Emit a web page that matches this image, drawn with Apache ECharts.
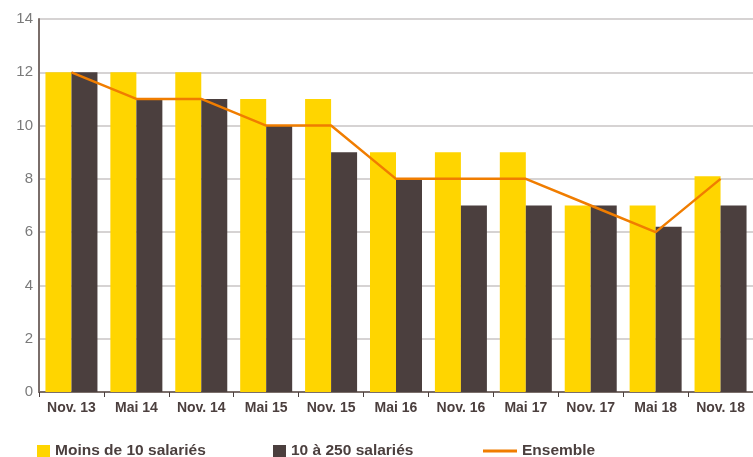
<!DOCTYPE html>
<html lang="fr">
<head>
  <meta charset="UTF-8">
  <title>Salariés</title>
  <script src="https://cdn.jsdelivr.net/npm/echarts@6/dist/echarts.min.js"></script>
  <style>
    html, body, #main {
      margin: 0;
      padding: 0;
      width: 753px;
      height: 457px;
      background: #fff;
    }
  </style>
</head>
<body>
  <div id="main"></div>

  <script>
    const periods = ["Nov. 13", "Mai 14", "Nov. 14", "Mai 15", "Nov. 15", "Mai 16",
                     "Nov. 16", "Mai 17", "Nov. 17", "Mai 18", "Nov. 18"];
    const moins10 = [12, 12, 12, 11, 11, 9, 9, 9, 7, 7, 8.1];
    const de10a250 = [12, 11, 11, 10, 9, 8, 7, 7, 7, 6.2, 7];
    const ensemble = [12, 11, 11, 10, 10, 8, 8, 8, 7, 6, 8];

    const textDark = "#4b3f3e";
    const legendText = { color: textDark, fontSize: 15.5, fontWeight: "bold", fontFamily: "Liberation Sans" };

    const chart = echarts.init(document.getElementById('main'));
    chart.setOption({
      animation: false,
      grid: { left: 39, right: 0, top: 19, bottom: 65 },
      legend: [
        {
          left: 37, top: 443, padding: 0,
          itemWidth: 13, itemHeight: 12, itemGap: 6,
          icon: "rect",
          textStyle: legendText,
          data: ["Moins de 10 salariés"]
        },
        {
          left: 273, top: 443, padding: 0,
          itemWidth: 13, itemHeight: 12,
          icon: "rect",
          textStyle: legendText,
          data: ["10 à 250 salariés"]
        },
        {
          left: 483, top: 443, padding: 0,
          itemWidth: 34, itemHeight: 3, itemGap: 8,
          icon: "rect",
          textStyle: legendText,
          data: ["Ensemble"]
        }
      ],
      xAxis: {
        type: 'category',
        data: periods,
        axisLine: { lineStyle: { color: "#7a6e6a", width: 2 } },
        axisTick: { show: true, length: 5, lineStyle: { color: "#4b3f3e" } },
        axisLabel: { color: textDark, fontSize: 14, fontWeight: "bold", fontFamily: "Liberation Sans", margin: 9 }
      },
      yAxis: {
        type: 'value',
        min: 0, max: 14, interval: 2,
        axisLine: { show: true, lineStyle: { color: "#7a6e6a", width: 2 } },
        axisTick: { show: false },
        axisLabel: { color: "#7a7a7a", fontSize: 15, fontFamily: "Liberation Sans", margin: 6 },
        splitLine: { lineStyle: { color: "#c9c4c4", width: 1.5 } }
      },
      series: [
        {
          name: "Moins de 10 salariés",
          type: "bar",
          data: moins10,
          barWidth: 26,
          barGap: "0%",
          itemStyle: { color: "#ffd500" }
        },
        {
          name: "10 à 250 salariés",
          type: "bar",
          data: de10a250,
          barWidth: 26,
          itemStyle: { color: "#4b3f3e" }
        },
        {
          name: "Ensemble",
          type: "line",
          data: ensemble,
          symbol: "none",
          lineStyle: { color: "#f07d00", width: 2.5 },
          itemStyle: { color: "#f07d00" }
        }
      ]
    });
  </script>
</body>
</html>
